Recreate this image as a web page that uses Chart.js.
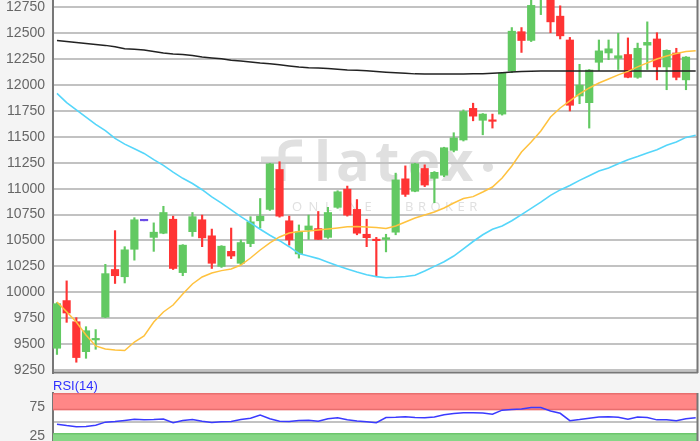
<!DOCTYPE html>
<html><head><meta charset="utf-8">
<script src="https://cdn.jsdelivr.net/npm/chart.js@4.4.1/dist/chart.umd.min.js"></script>
<style>
html,body{margin:0;padding:0;background:#f4f4f4;width:700px;height:441px;overflow:hidden;}
#w1{position:absolute;left:0;top:0;width:700px;height:374px;}
#w2{position:absolute;left:0;top:376px;width:700px;height:65px;}
</style></head><body>
<div id="w1"><canvas id="c1"></canvas></div>
<div id="w2"><canvas id="c2"></canvas></div>
<script>
// ---- data ----
const opens  = [9460,9920,9716,9427,9540,9760,10220,10150,10415,10690,10530,10570,10705,10190,10585,10700,10545,10250,10395,10280,10470,10690,10800,11185,10690,10370,10600,10615,10530,10820,10995,10800,10560,10510,10510,10580,11095,10975,11195,11100,11130,11370,11470,11775,11660,11660,11720,12135,12515,12431,12900,12850,12665,12435,11895,11830,12220,12310,12258,12295,12075,12385,12445,12175,12310,12050];
const highs  = [9900,10110,9755,9668,9640,10270,10595,10440,10720,10690,10670,10830,10735,10460,10770,10745,10610,10450,10620,10505,10730,10905,11245,11260,10735,10650,10745,10780,10820,10980,11025,10895,10705,10530,10560,11150,11220,11245,11230,11165,11400,11540,11760,11825,11725,11720,12120,12555,12555,12850,12980,12900,12765,12460,12200,12150,12435,12435,12500,12455,12405,12610,12505,12340,12355,12275];
const lows   = [9400,9710,9325,9363,9450,9755,10085,10090,10310,10690,10395,10565,10220,10160,10540,10440,10230,10240,10325,10265,10440,10620,10790,10725,10455,10330,10510,10510,10520,10810,10735,10555,10440,10155,10390,10555,10925,10970,11020,10865,11115,11355,11460,11655,11520,11585,11710,12120,12315,12420,12680,12505,12445,11750,11820,11585,12140,12245,12150,12070,12065,12150,12050,11955,12050,11955];
const closes = [9890,9800,9370,9629,9555,10180,10160,10410,10700,10690,10580,10770,10230,10455,10730,10525,10280,10445,10350,10480,10680,10735,11240,10735,10505,10585,10640,10510,10770,10970,10745,10570,10527,10498,10527,11085,10945,11240,11035,11158,11395,11490,11745,11700,11720,11650,12115,12520,12430,12769,12950,12610,12475,11805,12000,12145,12330,12350,12283,12075,12355,12412,12175,12335,12075,12270];
const maLong  = [12430,12420,12410,12400,12392,12383,12370,12350,12345,12338,12325,12310,12300,12295,12285,12270,12262,12255,12240,12232,12222,12212,12205,12195,12185,12175,12168,12165,12160,12152,12146,12143,12138,12130,12124,12120,12115,12108,12106,12106,12106,12106,12107,12108,12110,12114,12120,12126,12130,12134,12136,12136,12136,12136,12136,12136,12136,12136,12136,12136,12136,12136,12136,12136,12136,12136,12136];
const maMid   = [11920,11830,11760,11690,11620,11560,11485,11430,11385,11340,11280,11225,11160,11100,11050,10990,10920,10860,10795,10730,10670,10608,10550,10498,10440,10375,10350,10325,10290,10255,10225,10195,10170,10151,10141,10145,10152,10165,10205,10250,10295,10350,10420,10490,10555,10608,10640,10690,10750,10810,10870,10935,10988,11030,11080,11125,11170,11200,11240,11280,11310,11345,11375,11420,11450,11495,11515];
const maShort = [9906,9813,9713,9588,9482,9453,9443,9438,9520,9578,9713,9810,9877,9984,10080,10148,10186,10209,10225,10263,10331,10408,10476,10534,10572,10587,10592,10601,10611,10621,10633,10636,10630,10626,10616,10640,10679,10717,10746,10775,10814,10862,10905,10923,10968,11016,11103,11219,11354,11451,11557,11692,11779,11847,11914,11972,12020,12059,12098,12132,12175,12214,12252,12281,12305,12323,12332];
const rsi14   = [45.5,43,41,41.5,43.5,49,50,52,54,53,53.5,54.5,48,52,53.5,50.5,48.5,49.5,50,53.5,56,61.5,55,50.5,50,52,52.5,50.5,55,56.5,53,51,49.5,48,57,57.5,58.5,57,56.5,58,62,64,65.3,65.3,65,63,70,71,72,74.7,74.7,68.5,64.5,51.5,53.5,56,58,58.3,57.5,54,58,57,53,53,51.5,55,56.5];
const priceTicks = [9250,9500,9750,10000,10250,10500,10750,11000,11250,11500,11750,12000,12250,12500,12750];
const rsiTicks = [25,50,75];
const rsiTickLabels = ['25','','75'];
const rsiBands = {upper:70, lower:30};

// ---- styling ----
const GREEN='#62c962', RED='#ff3434', DOJI='#6b4ce6';
const FONT='"Liberation Sans", Arial, sans-serif';
const X_MIN=-0.41, X_MAX=66.24;
const candleColor = i => closes[i]>opens[i]?GREEN:(closes[i]<opens[i]?RED:DOJI);
const idx = opens.map((_,i)=>i);
const pts = arr => arr.map((v,i)=>({x:i,y:v}));

const bgPlugin = {
  id:'bg',
  beforeDraw(chart){
    const {ctx, chartArea:a} = chart;
    ctx.save(); ctx.fillStyle='#ffffff'; ctx.fillRect(a.left,a.top,a.right-a.left,a.bottom-a.top); ctx.restore();
    if (chart.canvas.id==='c1'){
      ctx.save();
      ctx.fillStyle='#e0e0e0';
      ctx.strokeStyle='#e0e0e0';
      ctx.textBaseline='alphabetic';
      ctx.font='bold 56px "Open Sans", sans-serif';
      // logo-style f: crossbar extending left
      ctx.lineWidth=7;
      ctx.beginPath(); ctx.moveTo(261,160); ctx.lineTo(302,160); ctx.stroke();
      ctx.beginPath(); ctx.moveTo(282,181); ctx.lineTo(282,152); ctx.quadraticCurveTo(282,143,296,143); ctx.lineTo(302,143); ctx.stroke();
      const chars=[['l',314],['a',336],['t',375],['e',407],['x',441]];
      chars.forEach(([c,x])=>ctx.fillText(c,x,181));
      ctx.beginPath(); ctx.arc(488,167,5,0,Math.PI*2); ctx.fill();
      ctx.font='13px "Open Sans", sans-serif';
      const spaced=(txt,x,y,gap)=>{ for(const c of txt){ ctx.fillText(c,x,y); x+=ctx.measureText(c).width+gap; } };
      spaced('ONLINE',292,211,6.5);
      spaced('BROKER',405,211,4.5);
      ctx.restore();
    }
  },
  afterDraw(chart){
    const {ctx, chartArea:a} = chart;
    ctx.save(); ctx.strokeStyle='#777'; ctx.lineWidth=2;
    ctx.beginPath(); ctx.moveTo(a.right-0.5,a.top); ctx.lineTo(a.right-0.5,a.bottom);
    if (chart.canvas.id==='c1'){ ctx.moveTo(a.left,a.bottom-0.5); ctx.lineTo(a.right,a.bottom-0.5); }
    ctx.stroke(); ctx.restore();
  }
};

const yFit = s => { s.width=53; s.paddingTop=0; s.paddingBottom=0; };

new Chart(document.getElementById('c1'), {
  data:{ datasets:[
    {type:'line', data:pts(maShort), borderColor:'#ffc23e', borderWidth:1.5, pointRadius:0, order:0},
    {type:'line', data:pts(maMid), borderColor:'#55d6fa', borderWidth:1.6, pointRadius:0, order:0},
    {type:'line', data:pts(maLong), borderColor:'#222222', borderWidth:1.5, pointRadius:0, order:0},
    {type:'bar', data:idx.map(i=>({x:i,y:[opens[i],closes[i]]})), backgroundColor:idx.map(candleColor), barThickness:7.5, minBarLength:1.5, grouped:false, order:1},
    {type:'bar', data:idx.map(i=>({x:i,y:[lows[i],highs[i]]})), backgroundColor:idx.map(candleColor), barThickness:1.5, grouped:false, order:2}
  ]},
  options:{
    responsive:true, maintainAspectRatio:false, animation:false, devicePixelRatio:1,
    layout:{padding:{left:0,right:2,top:0,bottom:1}},
    plugins:{legend:{display:false}, tooltip:{enabled:false}},
    scales:{
      x:{type:'linear', min:X_MIN, max:X_MAX, display:false, offset:false},
      y:{type:'linear', min:9221, max:12821,
         afterBuildTicks:s=>{s.ticks=priceTicks.map(v=>({value:v}));},
         afterFit:yFit,
         grid:{color:'#c2c2c2', lineWidth:2, drawTicks:false},
         border:{display:true, color:'#777', width:2},
         ticks:{color:'#666', font:{family:FONT, size:14}, padding:8, callback:v=>String(v)}
      }
    }
  },
  plugins:[bgPlugin]
});

const bandsPlugin = {
  id:'bands',
  beforeDatasetsDraw(chart){
    const {ctx, chartArea:a, scales:{y}} = chart;
    const yTop=y.getPixelForValue(100), yUp=y.getPixelForValue(rsiBands.upper), yLo=y.getPixelForValue(rsiBands.lower);
    ctx.save();
    ctx.fillStyle='#ff8787'; ctx.fillRect(a.left,yTop,a.right-a.left,yUp-yTop);
    ctx.fillStyle='#86d686'; ctx.fillRect(a.left,yLo,a.right-a.left,a.bottom-yLo);
    ctx.lineWidth=1.5;
    ctx.strokeStyle='#e86e6e'; ctx.beginPath(); ctx.moveTo(a.left,yTop+0.75); ctx.lineTo(a.right,yTop+0.75); ctx.moveTo(a.left,yUp-0.75); ctx.lineTo(a.right,yUp-0.75); ctx.stroke();
    ctx.strokeStyle='#6cc66c'; ctx.beginPath(); ctx.moveTo(a.left,yLo+0.75); ctx.lineTo(a.right,yLo+0.75); ctx.stroke();
    ctx.restore();
  },
  afterDraw(chart){
    const {ctx} = chart;
    ctx.save(); ctx.fillStyle='#2f2fff'; ctx.font='13px '+FONT; ctx.textBaseline='alphabetic';
    ctx.fillText('RSI(14)',53,14); ctx.restore();
  }
};

new Chart(document.getElementById('c2'), {
  data:{ datasets:[
    {type:'line', data:pts(rsi14), borderColor:'#3a3aff', borderWidth:1.5, pointRadius:0}
  ]},
  options:{
    responsive:true, maintainAspectRatio:false, animation:false, devicePixelRatio:1,
    layout:{padding:{left:0,right:2,top:17,bottom:0}},
    plugins:{legend:{display:false}, tooltip:{enabled:false}},
    scales:{
      x:{type:'linear', min:X_MIN, max:X_MAX, display:false, offset:false},
      y:{type:'linear', min:16, max:100,
         afterBuildTicks:s=>{s.ticks=rsiTicks.map(v=>({value:v}));},
         afterFit:yFit,
         grid:{color:c=>(c.tick && c.tick.value===50)?'#c2c2c2':'rgba(0,0,0,0)', lineWidth:2, drawTicks:false},
         border:{display:true, color:'#777', width:2},
         ticks:{color:'#666', font:{family:FONT, size:14}, padding:8, callback:(v,i)=>rsiTickLabels[i]}
      }
    }
  },
  plugins:[bgPlugin, bandsPlugin]
});
</script>
</body></html>
